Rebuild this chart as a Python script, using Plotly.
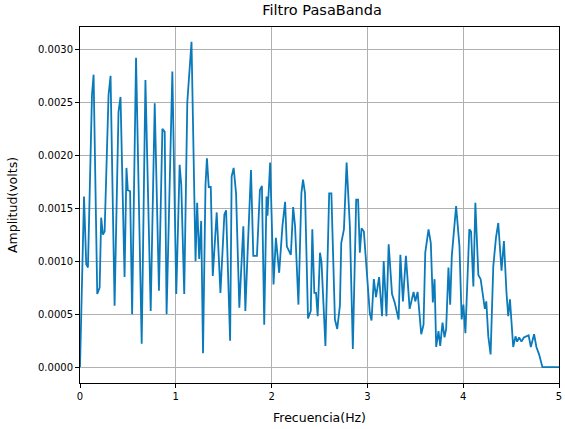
import plotly.graph_objects as go

freq = [0, 0.042, 0.065, 0.083, 0.125, 0.142, 0.180, 0.205, 0.221, 0.239, 0.257, 0.298, 0.319,
        0.361, 0.402, 0.423, 0.465, 0.485, 0.499, 0.523, 0.544, 0.585, 0.644, 0.683, 0.738,
        0.780, 0.824, 0.860, 0.884, 0.904, 0.964, 1.005, 1.040, 1.057, 1.088, 1.120, 1.164,
        1.206, 1.223, 1.244, 1.265, 1.284, 1.310, 1.325, 1.344, 1.365, 1.386, 1.427, 1.466,
        1.507, 1.525, 1.567, 1.583, 1.604, 1.629, 1.663, 1.705, 1.726, 1.750, 1.785, 1.809,
        1.847, 1.878, 1.899, 1.923, 1.947, 1.957, 1.985, 2.020, 2.045, 2.079, 2.113, 2.141,
        2.159, 2.201, 2.225, 2.245, 2.280, 2.311, 2.328, 2.349, 2.380, 2.409, 2.425, 2.446,
        2.464, 2.481, 2.505, 2.521, 2.562, 2.601, 2.624, 2.661, 2.685, 2.713, 2.727, 2.755,
        2.783, 2.817, 2.848, 2.883, 2.903, 2.921, 2.939, 2.963, 2.991, 3.025, 3.043, 3.067,
        3.090, 3.122, 3.153, 3.170, 3.199, 3.222, 3.257, 3.285, 3.326, 3.344, 3.371, 3.402,
        3.441, 3.482, 3.500, 3.524, 3.562, 3.586, 3.604, 3.638, 3.662, 3.683, 3.701, 3.718,
        3.742, 3.760, 3.784, 3.805, 3.822, 3.846, 3.864, 3.881, 3.926, 3.961, 3.984, 4.002,
        4.023, 4.054, 4.064, 4.082, 4.106, 4.127, 4.158, 4.182, 4.210, 4.226, 4.241, 4.262,
        4.286, 4.314, 4.342, 4.366, 4.400, 4.425, 4.452, 4.470, 4.488, 4.504, 4.522, 4.546,
        4.563, 4.584, 4.608, 4.633, 4.660, 4.683, 4.706, 4.740, 4.764, 4.792, 4.827, 5.0]

amplitude = [0, 0.00161, 0.00097, 0.00094, 0.00257, 0.00276, 0.00069, 0.00075, 0.00141, 0.00125,
             0.00128, 0.00257, 0.00275, 0.00058, 0.00241, 0.00255, 0.00085, 0.00188, 0.00167,
             0.00166, 0.00050, 0.00292, 0.00022, 0.00271, 0.00053, 0.00249, 0.00072, 0.00225,
             0.00222, 0.00050, 0.00279, 0.00069, 0.00191, 0.00172, 0.00069, 0.00250, 0.00307,
             0.00100, 0.00155, 0.00102, 0.00138, 0.00013, 0.00172, 0.00197, 0.00170, 0.00170,
             0.00086, 0.00146, 0.00070, 0.00144, 0.00148, 0.00025, 0.00180, 0.00188, 0.00164,
             0.00056, 0.00133, 0.00053, 0.00109, 0.00186, 0.00105, 0.00105, 0.00167, 0.00171,
             0.00040, 0.00161, 0.00143, 0.00193, 0.00078, 0.00122, 0.00089, 0.00133, 0.00156,
             0.00114, 0.00106, 0.00151, 0.00133, 0.00059, 0.00164, 0.00177, 0.00164, 0.00046,
             0.00053, 0.00130, 0.00070, 0.00070, 0.00048, 0.00108, 0.00099, 0.00020, 0.00164,
             0.00164, 0.00045, 0.00036, 0.00058, 0.00117, 0.00130, 0.00193, 0.00133, 0.00017,
             0.00158, 0.00158, 0.00108, 0.00131, 0.00128, 0.00089, 0.00051, 0.00044, 0.00083,
             0.00066, 0.00085, 0.00048, 0.00100, 0.00048, 0.00116, 0.00069, 0.00061, 0.00045,
             0.00106, 0.00062, 0.00105, 0.00055, 0.00071, 0.00062, 0.00071, 0.00031, 0.00040,
             0.00108, 0.00130, 0.00117, 0.00061, 0.00083, 0.00019, 0.00034, 0.00020, 0.00042,
             0.00028, 0.00036, 0.00094, 0.00059, 0.00105, 0.00152, 0.00114, 0.00045, 0.00059,
             0.00032, 0.00108, 0.00130, 0.00128, 0.00076, 0.00155, 0.00087, 0.00083, 0.00062,
             0.00055, 0.00062, 0.00029, 0.00012, 0.00095, 0.00122, 0.00136, 0.00091, 0.00119,
             0.00070, 0.00048, 0.00064, 0.00042, 0.00019, 0.00029, 0.00024, 0.00028, 0.00024,
             0.00028, 0.00029, 0.00030, 0.00019, 0.00031, 0.00019, 0.00012, 0, 0]

x_ticks = [0, 1, 2, 3, 4, 5]
y_ticks = [0, 0.0005, 0.001, 0.0015, 0.002, 0.0025, 0.003]

fig = go.Figure()
fig.add_trace(go.Scatter(x=freq, y=amplitude, mode="lines",
                         line=dict(color="#0a7abb", width=1.8), showlegend=False))

font = dict(family="DejaVu Sans", size=10, color="black")
axis_common = dict(showline=True, linecolor="black", linewidth=1, mirror=True,
                   ticks="outside", ticklen=4, tickcolor="black", tickwidth=1,
                   showgrid=True, gridcolor="#b0b0b0", gridwidth=1, zeroline=False,
                   tickfont=font, ticklabeloverflow="allow")

fig.update_layout(
    width=565, height=429,
    margin=dict(l=80, r=3, t=27, b=46),
    paper_bgcolor="white", plot_bgcolor="white",
    font=font,
    title=dict(text="Filtro PasaBanda", x=0.57, xanchor="center", y=0.988, yanchor="top",
               font=dict(family="DejaVu Sans", size=14.5, color="black")),
    xaxis=dict(range=[0, 5], tickvals=x_ticks, ticktext=[str(t) for t in x_ticks],
               title=dict(text="Frecuencia(Hz)", font=dict(family="DejaVu Sans", size=12.5), standoff=12),
               **axis_common),
    yaxis=dict(range=[-0.00015, 0.00321], tickvals=y_ticks, tickformat=".4f",
               title=dict(text="Amplitud(volts)", font=dict(family="DejaVu Sans", size=12.5), standoff=17),
               **axis_common),
)

fig.write_html("out.html")
